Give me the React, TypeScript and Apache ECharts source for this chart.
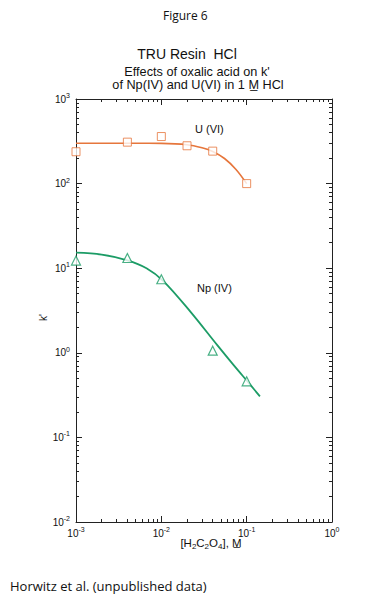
import React, { useEffect, useRef } from "react";
import * as echarts from "echarts";

// Tick values
const xMajor = [0.001, 0.01, 0.1, 1];
const yMajor = [0.01, 0.1, 1, 10, 100, 1000];
const minorMultipliers = [2, 3, 4, 5, 6, 7, 8, 9];

// Measured points
const uConc = [0.001, 0.004, 0.01, 0.02, 0.04, 0.1];
const uK = [238, 309, 360, 280, 242, 100];
const npConc = [0.001, 0.004, 0.01, 0.04, 0.1];
const npK = [12.3, 13.2, 7.4, 1.06, 0.46];

// Fitted curves
const uFitConc = [0.001, 0.005, 0.01, 0.02, 0.03, 0.04, 0.055, 0.075, 0.1];
const uFitK = [300, 300, 299, 288, 265, 240, 198, 147, 100];
const npFitConc = [0.001, 0.002, 0.004, 0.0067, 0.0105, 0.022, 0.045, 0.07, 0.11, 0.143];
const npFitK = [15.3, 14.5, 12.4, 10.0, 7.1, 3.05, 1.24, 0.72, 0.42, 0.305];

const ORANGE = "#E6763C";
const GREEN = "#1C9C66";
const AXIS = "#222";

function minorOf(major: number[]) {
  const out: number[] = [];
  for (let i = 0; i < major.length - 1; i++) {
    for (const m of minorMultipliers) out.push(major[i] * m);
  }
  return out;
}

const supFmt = (v: number) => `{b|10}{s|${Math.round(Math.log10(v))}}`;
const labelRich = {
  b: { fontSize: 10, fontFamily: "Liberation Sans", color: "#111" },
  s: { fontSize: 7, fontFamily: "Liberation Sans", color: "#111", padding: [0, 0, 7, 0] },
};

export default function App() {
  const ref = useRef<HTMLDivElement>(null);
  useEffect(() => {
    if (!ref.current) return;
    const chart = echarts.init(ref.current, undefined, { renderer: "svg" });
    const xMinor = minorOf(xMajor);
    const yMinor = minorOf(yMajor);

    const baseX = (extra: any) => ({
      type: "log",
      logBase: 10,
      min: xMajor[0],
      max: xMajor[xMajor.length - 1],
      gridIndex: 0,
      splitLine: { show: false },
      ...extra,
    });
    const baseY = (extra: any) => ({
      type: "log",
      logBase: 10,
      min: yMajor[0],
      max: yMajor[yMajor.length - 1],
      gridIndex: 0,
      splitLine: { show: false },
      ...extra,
    });

    const majorTick = (vals: number[]) => ({
      show: true,
      inside: true,
      length: 6,
      customValues: vals,
      lineStyle: { color: AXIS, width: 1 },
    });
    const minorTickCfg = (vals: number[]) => ({
      show: true,
      inside: true,
      length: 3,
      customValues: vals,
      lineStyle: { color: AXIS, width: 1 },
    });
    const line = { show: true, onZero: false, lineStyle: { color: AXIS, width: 1 } };
    const noLine = { show: false };
    const noLabel = { show: false };

    chart.setOption({
      animation: false,
      backgroundColor: "#fff",
      grid: { left: 76, right: 54, top: 99, bottom: 78, containLabel: false },
      xAxis: [
        baseX({
          position: "bottom",
          axisLine: line,
          axisTick: majorTick(xMajor),
          axisLabel: {
            show: true,
            customValues: xMajor,
            formatter: supFmt,
            rich: labelRich,
            margin: 4,
          },
          name: "[H{sub|2}C{sub|2}O{sub|4}], M\u0332",
          nameLocation: "middle",
          nameGap: 14,
          nameMoveOverlap: false,
          nameTextStyle: {
            fontSize: 11.5,
            fontFamily: "Liberation Sans",
            color: "#111",
            padding: [0, 0, 0, 14],
            rich: {
              sub: { fontSize: 8, fontFamily: "Liberation Sans", padding: [6, 0, 0, 0] },
            },
          },
        }),
        baseX({ position: "bottom", axisLine: noLine, axisLabel: noLabel, axisTick: minorTickCfg(xMinor) }),
        baseX({ position: "top", axisLine: line, axisLabel: noLabel, axisTick: majorTick(xMajor) }),
        baseX({ position: "top", axisLine: noLine, axisLabel: noLabel, axisTick: minorTickCfg(xMinor) }),
      ],
      yAxis: [
        baseY({
          position: "left",
          axisLine: line,
          axisTick: majorTick(yMajor),
          axisLabel: {
            show: true,
            customValues: yMajor,
            formatter: supFmt,
            rich: labelRich,
            margin: 6,
          },
          name: "k'",
          nameLocation: "middle",
          nameGap: 28,
          nameMoveOverlap: false,
          nameRotate: 90,
          nameTextStyle: { fontSize: 10, fontFamily: "Liberation Sans", color: "#111", padding: [0, 14, 0, 0] },
        }),
        baseY({ position: "left", axisLine: noLine, axisLabel: noLabel, axisTick: minorTickCfg(yMinor) }),
        baseY({ position: "right", axisLine: line, axisLabel: noLabel, axisTick: majorTick(yMajor) }),
        baseY({ position: "right", axisLine: noLine, axisLabel: noLabel, axisTick: minorTickCfg(yMinor) }),
      ],
      series: [
        {
          name: "U (VI) fit",
          type: "line",
          smooth: 0.35,
          showSymbol: false,
          symbol: "none",
          data: uFitConc.map((c, i) => [c, uFitK[i]]),
          lineStyle: { color: ORANGE, width: 1.6 },
          z: 2,
        },
        {
          name: "U (VI)",
          type: "scatter",
          symbol: "rect",
          symbolSize: 8,
          data: uConc.map((c, i) => [c, uK[i]]),
          itemStyle: { color: "#fff", borderColor: ORANGE, borderWidth: 1 },
          z: 3,
        },
        {
          name: "Np (IV) fit",
          type: "line",
          smooth: 0.35,
          showSymbol: false,
          symbol: "none",
          data: npFitConc.map((c, i) => [c, npFitK[i]]),
          lineStyle: { color: GREEN, width: 1.8 },
          z: 2,
        },
        {
          name: "Np (IV)",
          type: "scatter",
          symbol: "triangle",
          symbolSize: 9,
          data: npConc.map((c, i) => [c, npK[i]]),
          itemStyle: { color: "#fff", borderColor: GREEN, borderWidth: 1.2 },
          z: 3,
        },
      ],
      graphic: [
        {
          type: "text",
          left: 163,
          top: 9,
          style: { text: "Figure 6", fontSize: 12, fontFamily: "Open Sans", fill: "#111" },
        },
        {
          type: "text",
          x: 187,
          y: 54,
          style: {
            text: "TRU Resin  HCl",
            fontSize: 14,
            fontFamily: "Liberation Sans",
            fill: "#111",
            align: "center",
            verticalAlign: "middle",
          },
        },
        {
          type: "text",
          x: 197,
          y: 72,
          style: {
            text: "Effects of oxalic acid on k'",
            fontSize: 12.7,
            fontFamily: "Liberation Sans",
            fill: "#111",
            align: "center",
            verticalAlign: "middle",
          },
        },
        {
          type: "text",
          x: 198,
          y: 84.5,
          style: {
            text: "of Np(IV) and U(VI) in 1 M\u0332 HCl",
            fontSize: 12.7,
            fontFamily: "Liberation Sans",
            fill: "#111",
            align: "center",
            verticalAlign: "middle",
          },
        },
        {
          type: "text",
          x: 195,
          y: 129,
          style: { text: "U (VI)", fontSize: 11, fontFamily: "Liberation Sans", fill: "#111", verticalAlign: "middle" },
        },
        {
          type: "text",
          x: 197,
          y: 288,
          style: { text: "Np (IV)", fontSize: 11, fontFamily: "Liberation Sans", fill: "#111", verticalAlign: "middle" },
        },
        {
          type: "text",
          x: 10,
          y: 586,
          style: {
            text: "Horwitz et al. (unpublished data)",
            fontSize: 13,
            fontFamily: "Open Sans",
            fill: "#111",
            verticalAlign: "middle",
          },
        },
      ],
    });
    return () => chart.dispose();
  }, []);
  return <div ref={ref} style={{ position: "fixed", left: 0, top: 0, width: 386, height: 600 }} />;
}
